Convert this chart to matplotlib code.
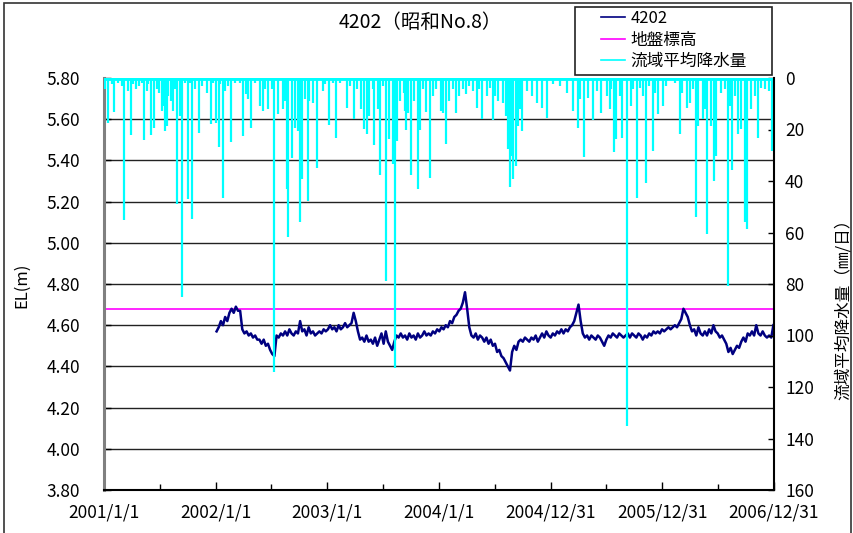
import numpy as np
import matplotlib
matplotlib.use('Agg')
import matplotlib.pyplot as plt
from matplotlib.lines import Line2D
from matplotlib.patches import Rectangle
from matplotlib.ticker import FixedLocator, FuncFormatter

plt.rcParams['font.family'] = ['Noto Sans CJK JP', 'DejaVu Sans']

# ---------------- data ----------------
title = '4202（昭和No.8）'
series_names = ['4202', '地盤標高', '流域平均降水量']
left_label = 'EL(m)'
right_label = '流域平均降水量（㎜/日）'

ground_level = 4.68

x_tick_labels = ['2001/1/1', '2002/1/1', '2003/1/1', '2004/1/1',
                 '2004/12/31', '2005/12/31', '2006/12/31']
left_ticks = [3.80, 4.00, 4.20, 4.40, 4.60, 4.80, 5.00, 5.20, 5.40, 5.60, 5.80]
right_ticks = [0, 20, 40, 60, 80, 100, 120, 140, 160]

# water level, one reading every 7 days from 2002-01-04
level_start = '2002-01-04'
level_step_days = 7
level_values = [
    4.57, 4.59, 4.62, 4.60, 4.64, 4.62, 4.66, 4.68, 4.66, 4.69, 4.67, 4.67,
    4.58, 4.56, 4.57, 4.55, 4.56, 4.54, 4.55, 4.53, 4.53, 4.51, 4.53, 4.50,
    4.51, 4.48, 4.46, 4.45, 4.55, 4.54, 4.56, 4.55, 4.57, 4.55, 4.58, 4.56,
    4.55, 4.57, 4.56, 4.62, 4.57, 4.58, 4.55, 4.59, 4.56, 4.57, 4.55, 4.56,
    4.57, 4.56, 4.58, 4.57, 4.58, 4.60, 4.58, 4.59, 4.57, 4.60, 4.58, 4.59,
    4.61, 4.59, 4.60, 4.61, 4.66, 4.62, 4.57, 4.53, 4.54, 4.52, 4.55, 4.52,
    4.53, 4.51, 4.54, 4.50, 4.53, 4.56, 4.51, 4.57, 4.52, 4.50, 4.48, 4.52,
    4.55, 4.54, 4.56, 4.54, 4.55, 4.53, 4.56, 4.54, 4.55, 4.53, 4.56, 4.54,
    4.55, 4.57, 4.55, 4.56, 4.55, 4.57, 4.56, 4.58, 4.57, 4.59, 4.58, 4.60,
    4.59, 4.62, 4.61, 4.64, 4.65, 4.67, 4.68, 4.71, 4.76, 4.68, 4.59, 4.55,
    4.54, 4.56, 4.53, 4.55, 4.54, 4.52, 4.54, 4.51, 4.53, 4.50, 4.51, 4.47,
    4.48, 4.45, 4.44, 4.42, 4.40, 4.38, 4.47, 4.50, 4.48, 4.52, 4.53, 4.52,
    4.54, 4.53, 4.52, 4.54, 4.53, 4.55, 4.52, 4.54, 4.56, 4.54, 4.57, 4.55,
    4.54, 4.56, 4.55, 4.57, 4.56, 4.58, 4.56, 4.58, 4.57, 4.59, 4.60, 4.62,
    4.66, 4.70, 4.62, 4.56, 4.54, 4.55, 4.53, 4.55, 4.54, 4.53, 4.55, 4.54,
    4.52, 4.50, 4.53, 4.55, 4.54, 4.56, 4.55, 4.54, 4.56, 4.55, 4.54, 4.55,
    4.56, 4.54, 4.56, 4.55, 4.54, 4.56, 4.55, 4.53, 4.55, 4.54, 4.56, 4.55,
    4.57, 4.56, 4.57, 4.56, 4.58, 4.57, 4.58, 4.59, 4.58, 4.59, 4.60, 4.59,
    4.61, 4.63, 4.68, 4.66, 4.64, 4.60, 4.57, 4.58, 4.55, 4.59, 4.56, 4.55,
    4.57, 4.55, 4.58, 4.56, 4.60, 4.57, 4.56, 4.54, 4.55, 4.53, 4.51, 4.47,
    4.49, 4.46, 4.48, 4.50, 4.49, 4.52, 4.54, 4.52, 4.56, 4.55, 4.57, 4.55,
    4.60, 4.56, 4.55, 4.57, 4.55, 4.54, 4.55, 4.54, 4.60,
]

# daily basin-average rainfall (day offset from 2001-01-01, mm/day)
rain_origin = '2001-01-01'
rain_day = [
    3, 13, 25, 34, 47, 58, 64, 80, 88, 96, 105, 116, 123, 132, 139, 145, 153, 163,
    172, 181, 189, 194, 199, 205, 210, 218, 224, 232, 237, 248, 256, 265, 276, 281,
    287, 297, 312, 319, 336, 349, 357, 366, 375, 379, 388, 396, 406, 415, 428, 445,
    455, 464, 472, 481, 494, 510, 519, 526, 537,
    548, 556, 570, 584, 592, 597, 603, 613, 624, 635, 641, 646, 657, 666, 671, 682,
    695, 715, 723, 735, 750, 758, 772, 793, 804, 817, 828, 839, 851, 859, 866, 880,
    883, 894, 902, 913, 923, 930, 944, 952, 957, 968, 979, 984, 987, 995, 1003, 1013,
    1025, 1033, 1044, 1053, 1066, 1077, 1084, 1101,
    1107, 1118, 1129, 1140, 1150, 1162, 1172, 1183, 1194, 1205, 1218, 1227, 1237,
    1251, 1262, 1271, 1278, 1289, 1305, 1314, 1322, 1327, 1333, 1338, 1347, 1352,
    1360, 1367, 1384, 1398, 1414, 1431, 1447, 1469, 1491, 1512, 1534, 1548, 1556,
    1569, 1583, 1597, 1611, 1624, 1643,
    1653, 1658, 1667, 1675, 1686, 1693, 1710, 1722, 1729, 1742, 1753, 1762, 1773,
    1782, 1795, 1800, 1811, 1827, 1838, 1866, 1882, 1889, 1904, 1915, 1925, 1934,
    1940, 1958, 1964, 1972, 1985, 1993, 2002, 2018, 2029, 2040, 2045, 2054, 2062,
    2073, 2083, 2094, 2103, 2116, 2127, 2138, 2149, 2160, 2174, 2185,
]
rain_mm = [
    4.4, 17.3, 2.5, 13.2, 1.8, 3.1, 55.0, 5.0, 22.0, 2.5, 4.1, 3.1, 1.8, 24.0, 5.0, 2.5, 22.0, 19.5,
    4.4, 5.7, 12.8, 10.9, 20.6, 18.6, 7.0, 8.9, 12.8, 4.4, 49.0, 14.8, 85.0, 1.8, 47.0, 1.8,
    54.6, 4.4, 21.5, 3.1, 5.7, 18.0, 1.8, 17.3, 26.7, 2.5, 46.5, 5.0, 3.1, 25.0, 1.8, 1.8,
    22.5, 6.3, 8.3, 19.3, 1.8, 10.9, 12.8, 4.4, 12.2,
    4.4, 114.0, 14.1, 12.2, 8.9, 43.0, 61.6, 31.0, 19.3, 20.6, 55.8, 39.3, 8.3, 47.8, 8.9, 9.6,
    35.0, 5.0, 2.5, 18.4, 1.8, 23.2, 1.8, 11.5, 3.1, 15.8, 4.4, 12.2, 19.7, 21.9, 14.8, 4.4,
    26.0, 12.2, 37.5, 3.1, 79.0, 23.8, 33.5, 112.6, 24.5, 8.9, 5.7, 12.8, 20.0, 13.5, 37.5, 8.9,
    43.2, 20.0, 4.4, 13.2, 39.0, 7.0, 4.1, 12.8,
    13.5, 25.8, 8.9, 4.4, 13.5, 7.0, 4.4, 6.3, 3.1, 5.0, 11.5, 4.4, 16.0,
    7.0, 3.8, 16.3, 7.0, 8.9, 9.6, 14.8, 27.7, 42.2, 30.3, 39.4, 34.0, 18.6,
    12.2, 20.6, 5.0, 7.0, 9.6, 11.5, 15.4, 2.5, 3.1, 5.7, 12.8, 19.3, 8.3,
    30.5, 7.6, 16.4, 5.0, 13.5, 7.0,
    12.2, 4.4, 28.7, 23.8, 7.0, 23.2, 135.0, 10.9, 4.4, 46.5, 3.8, 7.0, 40.9,
    3.1, 28.3, 5.7, 14.1, 10.9, 3.1, 1.8, 21.9, 5.7, 11.5, 9.6, 4.4, 53.8,
    18.6, 16.1, 12.2, 60.7, 18.6, 40.0, 30.3, 5.7, 4.4, 80.8, 10.9, 35.7, 7.0,
    21.9, 19.9, 55.8, 58.8, 12.2, 7.0, 23.2, 3.8, 4.4, 5.0, 28.3,
]

# ---------------- derived x values ----------------
def parse_label(s):
    y, m, d = s.split('/')
    return np.datetime64(f'{int(y):04d}-{int(m):02d}-{int(d):02d}')

tick_dates = np.array([parse_label(s) for s in x_tick_labels])
level_dates = np.datetime64(level_start) + np.arange(len(level_values)) * np.timedelta64(level_step_days, 'D')
rain_dates = np.datetime64(rain_origin) + np.array(rain_day).astype('timedelta64[D]')

# ---------------- figure ----------------
W, H = 854, 533
fig = plt.figure(figsize=(W / 100, H / 100), dpi=100)
ax = fig.add_axes([104 / W, 1 - 490 / H, (774 - 104) / W, (490 - 78) / H])
ax2 = ax.twinx()

navy = '#000080'
cyan = '#00FFFF'
magenta = '#FF00FF'

# left axis: water level
ax.set_ylim(left_ticks[0], left_ticks[-1])
ax.yaxis.set_major_locator(FixedLocator(left_ticks))
ax.yaxis.set_major_formatter(FuncFormatter(lambda v, p: f'{v:.2f}'))
ax.grid(axis='y', color='#222222', lw=1.0)
ax.set_axisbelow(True)
ax.axhline(ground_level, color=magenta, lw=1.2, zorder=2)
ax.plot(level_dates, level_values, color=navy, lw=1.8, zorder=3)

# x axis
ax.set_xlim(tick_dates[0], tick_dates[-1])
ax.set_xticks(tick_dates)
ax.set_xticklabels(x_tick_labels)
mids = tick_dates[:-1] + (tick_dates[1:] - tick_dates[:-1]) / 2
ax.set_xticks(mids, minor=True)

# right axis: rainfall (inverted)
ax2.set_ylim(right_ticks[-1], right_ticks[0])
ax2.yaxis.set_major_locator(FixedLocator(right_ticks))
ax2.vlines(rain_dates, 0, rain_mm, color=cyan, lw=1.6)
ax2.axhline(0, color=cyan, lw=3.5)

tick_font = 12.5
ax.tick_params(axis='y', direction='in', length=5, width=1, labelsize=tick_font, pad=17)
ax.tick_params(axis='x', which='major', direction='in', length=6, width=1, labelsize=tick_font, pad=10)
ax.tick_params(axis='x', which='minor', direction='in', length=4, width=1)
ax2.tick_params(axis='y', direction='in', length=4, width=1, labelsize=tick_font, pad=8)

for a in (ax, ax2):
    a.spines['top'].set_visible(False)
ax.spines['left'].set_color('#808080')
ax.spines['left'].set_linewidth(2.2)
ax2.spines['left'].set_visible(False)
ax.spines['bottom'].set_color('black')
ax.spines['bottom'].set_linewidth(1.5)
ax2.spines['right'].set_color('black')
ax2.spines['right'].set_linewidth(1.5)
ax.spines['right'].set_visible(False)
ax2.spines['bottom'].set_visible(False)

# labels and title
fig.text(22 / W, 1 - 285 / H, left_label, rotation=90, ha='center', va='center', fontsize=12)
fig.text(843 / W, 1 - 305 / H, right_label, rotation=90, ha='center', va='center', fontsize=12)
fig.text(420 / W, 1 - 22 / H, title, ha='center', va='center', fontsize=14)

# figure border
fig.patches.append(Rectangle((4 / W, -0.05), (851 - 4) / W, 1.05 - 3 / H,
                             transform=fig.transFigure, fill=False, edgecolor='#333333', lw=1.2))

# legend box
fig.patches.append(Rectangle((575 / W, 1 - 75 / H), (772 - 575) / W, (75 - 7) / H,
                             transform=fig.transFigure, facecolor='white', edgecolor='#222222', lw=1.2, zorder=5))
handles = [Line2D([], [], color=navy, lw=1.2),
           Line2D([], [], color=magenta, lw=1.2),
           Line2D([], [], color=cyan, lw=1.2)]
leg = fig.legend(handles, series_names, loc='center', bbox_to_anchor=(674 / W, 1 - 40 / H),
                 frameon=False, fontsize=12, handlelength=1.4, handletextpad=0.35,
                 labelspacing=0.28, borderpad=0)
leg.set_zorder(6)

fig.savefig('out.png', dpi=100)
